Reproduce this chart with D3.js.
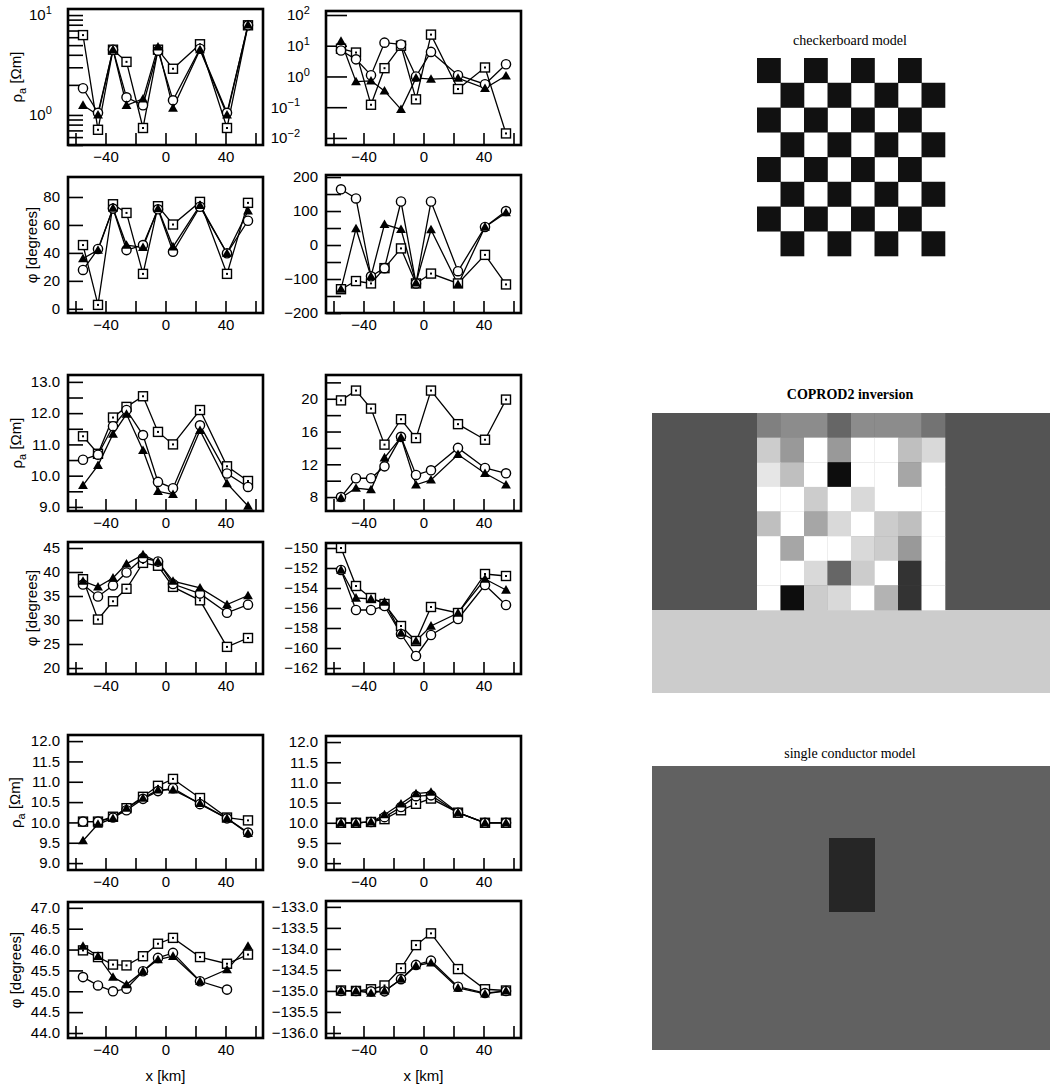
<!DOCTYPE html>
<html><head><meta charset="utf-8">
<script src="https://cdn.jsdelivr.net/npm/d3@7"></script>
<style>body{margin:0;background:#fff;} svg{display:block;}</style>
</head><body>
<svg id="c" width="1050" height="1087"></svg>
<script>
// ---------------- DATA ----------------
const stations = [-55, -45, -35, -26, -15, -5, 5, 23, 41, 55];
const xTicks = [-60, -40, -20, 0, 20, 40, 60];
const xTickLabels = [-40, 0, 40];

// checkerboard model – top row
const p1Square   = [6.3, 0.71, 4.5, 3.4, 0.74, 4.5, 2.9, 5.1, 0.74, 7.9];
const p1Circle   = [1.85, 1.05, 4.5, 1.5, 1.25, 4.4, 1.4, 4.6, 1.05, 7.9];
const p1Triangle = [1.25, 1.0, 4.5, 1.25, 1.45, 4.8, 1.17, 4.5, 1.0, 8.0];
const p1Ticks = [0.5,0.6,0.7,0.8,0.9,1,2,3,4,5,6,7,8,9,10];
const p1Labels = [1, 10];

const p2Square   = [8, 6, 0.12, 1.86, 10, 0.18, 23, 0.39, 1.96, 0.014];
const p2Circle   = [7, 3.6, 1.1, 12.6, 11, 1.0, 6.3, 1.1, 0.56, 2.5];
const p2Triangle = [14, 0.68, 0.72, 0.34, 0.085, 0.9, 0.82, 0.88, 0.41, 1.05];
const p2Ticks = [0.01, 0.1, 1, 10, 100];
const p2Labels = [0.01, 0.1, 1, 10, 100];

const p3Square   = [45.6, 2.8, 74.8, 68.6, 25, 73.4, 60.3, 76.5, 25, 75.8];
const p3Circle   = [27.8, 42.8, 71.7, 42, 45.6, 71.2, 40.8, 73, 39.7, 63];
const p3Triangle = [36, 42, 72, 45.6, 44, 71.7, 44.4, 74, 39.7, 70];
const p3Ticks = [0, 20, 40, 60, 80];
const p3Labels = [0, 20, 40, 60, 80];

const p4Square   = [-130, -106, -113, -68, -10, -113, -84, -113, -29, -116];
const p4Circle   = [164, 137, -92, -68, 128, -113, 128, -77, 53, 100];
const p4Triangle = [-130, 48, -92, 61, 46, -111, 45, -116, 53, 95];
const p4Ticks = [-200, -150, -100, -50, 0, 50, 100, 150, 200];
const p4Labels = [-200, -100, 0, 100, 200];

// COPROD2 inversion – middle row
const p5Square   = [11.26, 10.7, 11.86, 12.2, 12.54, 11.4, 11.0, 12.1, 10.3, 9.83];
const p5Circle   = [10.51, 10.67, 11.58, 12.1, 11.3, 9.8, 9.6, 11.61, 10.07, 9.64];
const p5Triangle = [9.69, 10.33, 11.33, 11.97, 10.81, 9.5, 9.4, 11.45, 9.75, 9.03];
const p5Ticks = [9.0, 9.5, 10.0, 10.5, 11.0, 11.5, 12.0, 12.5, 13.0];
const p5Labels = [9.0, 10.0, 11.0, 12.0, 13.0];

const p6Square   = [19.8, 21.0, 18.8, 14.4, 17.5, 15.2, 21.0, 16.9, 15.0, 19.9];
const p6Circle   = [8.0, 10.3, 10.3, 11.75, 15.35, 10.7, 11.27, 14.0, 11.55, 10.9];
const p6Triangle = [7.9, 9.1, 8.9, 12.8, 15.3, 9.5, 10.1, 13.2, 10.9, 9.5];
const p6Ticks = [8, 10, 12, 14, 16, 18, 20, 22];
const p6Labels = [8, 12, 16, 20];

const p7Square   = [38.5, 30.1, 33.9, 36.5, 41.9, 41.3, 36.9, 34.1, 24.4, 26.25];
const p7Circle   = [37.4, 34.9, 37.2, 39.9, 42.9, 42.2, 37.5, 35.5, 31.5, 33.2];
const p7Triangle = [38.1, 36.9, 38.75, 41.7, 43.6, 42.1, 38.1, 36.7, 33.2, 35.1];
const p7Ticks = [20, 25, 30, 35, 40, 45];
const p7Labels = [20, 25, 30, 35, 40, 45];

const p8Square   = [-150.0, -153.8, -155.0, -155.6, -157.8, -159.3, -155.9, -156.5, -152.6, -152.8];
const p8Circle   = [-152.2, -156.2, -156.2, -155.8, -158.6, -160.8, -158.7, -157.1, -153.7, -155.7];
const p8Triangle = [-152.2, -155.0, -155.1, -155.4, -158.5, -159.3, -157.8, -156.5, -153.1, -154.2];
const p8Ticks = [-162, -160, -158, -156, -154, -152, -150];
const p8Labels = [-162, -160, -158, -156, -154, -152, -150];

// single conductor model – bottom row
const p9Square   = [10.02, 10.02, 10.14, 10.35, 10.63, 10.9, 11.07, 10.6, 10.12, 10.05];
const p9Circle   = [10.02, 10.02, 10.12, 10.3, 10.58, 10.77, 10.84, 10.45, 10.1, 9.75];
const p9Triangle = [9.55, 9.96, 10.1, 10.35, 10.6, 10.8, 10.8, 10.47, 10.1, 9.73];
const p9Ticks = [9.0, 9.5, 10.0, 10.5, 11.0, 11.5, 12.0];
const p9Labels = [9.0, 9.5, 10.0, 10.5, 11.0, 11.5, 12.0];

const p10Square   = [10.0, 10.0, 10.02, 10.09, 10.31, 10.47, 10.6, 10.25, 10.0, 10.0];
const p10Circle   = [10.0, 10.0, 10.02, 10.14, 10.39, 10.66, 10.68, 10.25, 10.0, 10.0];
const p10Triangle = [10.0, 10.0, 10.02, 10.2, 10.47, 10.72, 10.76, 10.25, 10.0, 10.0];

const p11Square   = [45.98, 45.82, 45.64, 45.62, 45.84, 46.14, 46.28, 45.82, 45.66, 45.88];
const p11Circle   = [45.34, 45.14, 45.0, 45.06, 45.48, 45.8, 45.92, 45.24, 45.04, null];
const p11Triangle = [46.08, 45.84, 45.34, 45.16, 45.48, 45.76, 45.84, 45.24, 45.52, 46.08];
const p11Ticks = [44.0, 44.5, 45.0, 45.5, 46.0, 46.5, 47.0];
const p11Labels = [44.0, 44.5, 45.0, 45.5, 46.0, 46.5, 47.0];

const p12Square   = [-134.99, -135.0, -134.96, -134.87, -134.46, -133.91, -133.63, -134.48, -134.96, -134.99];
const p12Circle   = [-135.0, -135.0, -135.01, -135.01, -134.72, -134.38, -134.28, -134.9, -135.05, -135.0];
const p12Triangle = [-135.0, -135.0, -135.05, -135.0, -134.72, -134.4, -134.33, -134.93, -135.07, -135.0];
const p12Ticks = [-136.0, -135.5, -135.0, -134.5, -134.0, -133.5, -133.0];
const p12Labels = [-136.0, -135.5, -135.0, -134.5, -134.0, -133.5, -133.0];

// model images (grey level 0 = black, 1 = white)
const checkerRows = 8, checkerCols = 8;
const coprodCells = [
  [0.50, 0.55, 0.55, 0.40, 0.55, 0.55, 0.55, 0.45],
  [0.80, 0.60, 1.00, 0.60, 1.00, 1.00, 0.75, 0.85],
  [0.90, 0.75, 1.00, 0.05, 1.00, 1.00, 0.65, 1.00],
  [1.00, 1.00, 0.80, 1.00, 0.85, 1.00, 1.00, 1.00],
  [0.75, 1.00, 0.65, 0.85, 1.00, 0.80, 0.75, 1.00],
  [1.00, 0.65, 1.00, 1.00, 0.85, 0.80, 0.60, 1.00],
  [1.00, 1.00, 0.85, 0.40, 0.80, 1.00, 0.20, 1.00],
  [1.00, 0.05, 0.80, 0.85, 1.00, 0.70, 0.20, 1.00]
];
const coprodHost = 0.33, coprodBase = 0.80;
const conductorHost = 0.38, conductorBody = 0.15;

// ---------------- DRAWING ----------------
const svg = d3.select("#c");
const FONT = "'Liberation Sans', Arial, Helvetica, sans-serif";
const SERIF = "'Liberation Serif', 'Times New Roman', serif";

const fmtSigned = f => d => (d < 0 ? "\u2212" : "") + f(Math.abs(d));
const fmtInt = fmtSigned(d3.format("d"));
const fmt1 = fmtSigned(d3.format(".1f"));

const L = {x: 68, w: 195}, R = {x: 326, w: 195};

const panels = [
  {col: L, y0: 9,   y1: 145, log: true, dom: [0.5, 11.5], ticks: p1Ticks, labels: p1Labels, tl: 15, s: [p1Square, p1Circle, p1Triangle], title: "rho", tx: 17},
  {col: R, y0: 11,  y1: 145, log: true, dom: [Math.pow(10,-2.23), Math.pow(10,2.13)], ticks: p2Ticks, labels: p2Labels, tl: 21, s: [p2Square, p2Circle, p2Triangle]},
  {col: L, y0: 177, y1: 313, dom: [-3, 94.3], ticks: p3Ticks, labels: p3Labels, fmt: fmtInt, tl: 15, s: [p3Square, p3Circle, p3Triangle], title: "phi", tx: 32},
  {col: R, y0: 175, y1: 313, dom: [-200, 206], ticks: p4Ticks, labels: p4Labels, fmt: fmtInt, tl: 15, s: [p4Square, p4Circle, p4Triangle]},
  {col: L, y0: 375, y1: 511, dom: [8.87, 13.22], ticks: p5Ticks, labels: p5Labels, fmt: fmt1, tl: 15, s: [p5Square, p5Circle, p5Triangle], title: "rho", tx: 17},
  {col: R, y0: 375, y1: 511, dom: [6.3, 22.9], ticks: p6Ticks, labels: p6Labels, fmt: fmtInt, tl: 15, s: [p6Square, p6Circle, p6Triangle]},
  {col: L, y0: 542, y1: 674, dom: [18.75, 46.25], ticks: p7Ticks, labels: p7Labels, fmt: fmtInt, tl: 15, s: [p7Square, p7Circle, p7Triangle], title: "phi", tx: 32},
  {col: R, y0: 543, y1: 674, dom: [-162.6, -149.5], ticks: p8Ticks, labels: p8Labels, fmt: fmtInt, tl: 15, s: [p8Square, p8Circle, p8Triangle]},
  {col: L, y0: 735, y1: 870, dom: [8.83, 12.15], ticks: p9Ticks, labels: p9Labels, fmt: fmt1, tl: 15, s: [p9Square, p9Circle, p9Triangle], title: "rho", tx: 16},
  {col: R, y0: 736, y1: 870, dom: [8.83, 12.15], ticks: p9Ticks, labels: p9Labels, fmt: fmt1, tl: 15, s: [p10Square, p10Circle, p10Triangle]},
  {col: L, y0: 902, y1: 1038, dom: [43.88, 47.14], ticks: p11Ticks, labels: p11Labels, fmt: fmt1, tl: 15, s: [p11Square, p11Circle, p11Triangle], title: "phi", tx: 16, xtitle: true},
  {col: R, y0: 901, y1: 1038, dom: [-136.12, -132.86], ticks: p12Ticks, labels: p12Labels, fmt: fmt1, tl: 15, s: [p12Square, p12Circle, p12Triangle], xtitle: true}
];

panels.forEach(p => {
  const x = d3.scaleLinear().domain([-65, 65]).range([p.col.x, p.col.x + p.col.w]);
  const y = (p.log ? d3.scaleLog() : d3.scaleLinear()).domain(p.dom).range([p.y1, p.y0]);
  const g = svg.append("g");

  // y axis
  const labelSet = new Set(p.labels.map(v => +v.toFixed(4)));
  const ya = d3.axisLeft(y).tickValues(p.ticks).tickSize(-p.tl).tickPadding(8)
    .tickFormat(d => labelSet.has(+d.toFixed(4)) ? (p.log ? "10" : p.fmt(d)) : "");
  const yg = g.append("g").attr("transform", `translate(${p.col.x},0)`).call(ya);
  yg.select(".domain").remove();
  yg.selectAll("line").attr("stroke", "#000").attr("stroke-width", 1.6);
  yg.selectAll("text").attr("font-family", FONT).attr("font-size", 15).attr("fill", "#000");
  if (p.log) {
    yg.selectAll("text").each(function(d) {
      if (!labelSet.has(+d.toFixed(4))) return;
      const e = Math.round(Math.log10(d));
      const t = d3.select(this);
      t.attr("dx", e < 0 ? "-1.2em" : "-0.55em");
      t.append("tspan").attr("dy", "-0.55em").attr("font-size", 11)
        .text(e < 0 ? "\u2212" + Math.abs(e) : String(e));
    });
  }

  // x axis
  const xa = d3.axisBottom(x).tickValues(xTicks).tickSize(-12).tickPadding(6)
    .tickFormat(d => xTickLabels.includes(d) ? fmtInt(d) : "");
  const xg = g.append("g").attr("transform", `translate(0,${p.y1})`).call(xa);
  xg.select(".domain").remove();
  xg.selectAll("line").attr("stroke", "#000").attr("stroke-width", 1.6);
  xg.selectAll("text").attr("font-family", FONT).attr("font-size", 15).attr("fill", "#000");

  // frame
  g.append("rect").attr("x", p.col.x).attr("y", p.y0).attr("width", p.col.w).attr("height", p.y1 - p.y0)
    .attr("fill", "none").attr("stroke", "#000").attr("stroke-width", 2.6);

  // lines
  const line = d3.line().defined(d => d[1] != null).x(d => x(d[0])).y(d => y(d[1]));
  p.s.forEach(vals => {
    g.append("path").datum(stations.map((s, i) => [s, vals[i]]))
      .attr("d", line).attr("fill", "none").attr("stroke", "#000").attr("stroke-width", 1.3);
  });

  // markers: squares, circles, triangles
  const pts = (vals) => stations.map((s, i) => [s, vals[i]]).filter(d => d[1] != null);
  const sq = g.append("g");
  pts(p.s[0]).forEach(d => {
    sq.append("rect").attr("x", x(d[0]) - 4.5).attr("y", y(d[1]) - 4.5).attr("width", 9).attr("height", 9)
      .attr("fill", "#fff").attr("stroke", "#000").attr("stroke-width", 1.4);
    sq.append("rect").attr("x", x(d[0]) - 1).attr("y", y(d[1]) - 1).attr("width", 2).attr("height", 2).attr("fill", "#000");
  });
  const ci = g.append("g");
  pts(p.s[1]).forEach(d => {
    ci.append("circle").attr("cx", x(d[0])).attr("cy", y(d[1])).attr("r", 4.6)
      .attr("fill", "#fff").attr("stroke", "#000").attr("stroke-width", 1.4);
  });
  const tr = g.append("g");
  pts(p.s[2]).forEach(d => {
    tr.append("path").attr("d", d3.symbol(d3.symbolTriangle, 42)())
      .attr("transform", `translate(${x(d[0])},${y(d[1]) + 0.8})`).attr("fill", "#000");
  });

  // titles
  const cy = (p.y0 + p.y1) / 2;
  if (p.title === "rho") {
    const t = svg.append("text").attr("transform", `translate(${p.tx},${cy}) rotate(-90)`)
      .attr("text-anchor", "middle").attr("dy", "0.35em").attr("font-family", FONT).attr("font-size", 15);
    t.append("tspan").text("\u03C1");
    t.append("tspan").attr("font-size", 11).attr("dy", "0.3em").text("a");
    t.append("tspan").attr("dy", "-0.3em").text(" [\u03A9m]");
  } else if (p.title === "phi") {
    svg.append("text").attr("transform", `translate(${p.tx},${cy}) rotate(-90)`)
      .attr("text-anchor", "middle").attr("dy", "0.35em").attr("font-family", FONT).attr("font-size", 15)
      .text("\u03C6 [degrees]");
  }
  if (p.xtitle) {
    svg.append("text").attr("x", p.col.x + p.col.w / 2).attr("y", 1081).attr("text-anchor", "middle")
      .attr("font-family", FONT).attr("font-size", 15).text("x [km]");
  }
});

// ---------------- MODEL IMAGES ----------------
const greyC = v => { const c = Math.round(v * 255); return `rgb(${c},${c},${c})`; };

// checkerboard
svg.append("text").attr("x", 850).attr("y", 45).attr("text-anchor", "middle")
  .attr("font-family", SERIF).attr("font-size", 14).text("checkerboard model");
const cbX = d3.scaleBand().domain(d3.range(checkerCols)).range([757, 945]);
const cbY = d3.scaleBand().domain(d3.range(checkerRows)).range([58, 256]);
const cbCells = [];
d3.range(checkerRows).forEach(r => d3.range(checkerCols).forEach(c => cbCells.push({r, c})));
svg.append("g").selectAll("rect").data(cbCells.filter(d => (d.r + d.c) % 2 === 0)).join("rect")
  .attr("x", d => cbX(d.c)).attr("y", d => cbY(d.r)).attr("width", cbX.bandwidth() + 0.3).attr("height", cbY.bandwidth() + 0.3)
  .attr("fill", "#111");

// COPROD2 inversion
svg.append("text").attr("x", 850).attr("y", 399).attr("text-anchor", "middle")
  .attr("font-family", SERIF).attr("font-size", 14).attr("font-weight", "bold").text("COPROD2 inversion");
svg.append("rect").attr("x", 652).attr("y", 413).attr("width", 398).attr("height", 197).attr("fill", greyC(coprodHost));
svg.append("rect").attr("x", 652).attr("y", 610).attr("width", 398).attr("height", 83).attr("fill", greyC(coprodBase));
const cpX = d3.scaleBand().domain(d3.range(8)).range([757, 945]);
const cpY = d3.scaleBand().domain(d3.range(8)).range([413, 610]);
const cpCells = [];
coprodCells.forEach((row, r) => row.forEach((v, c) => cpCells.push({r, c, v})));
svg.append("g").selectAll("rect").data(cpCells).join("rect")
  .attr("x", d => cpX(d.c)).attr("y", d => cpY(d.r)).attr("width", cpX.bandwidth() + 0.3).attr("height", cpY.bandwidth() + 0.3)
  .attr("fill", d => greyC(d.v));

// single conductor model
svg.append("text").attr("x", 850).attr("y", 758).attr("text-anchor", "middle")
  .attr("font-family", SERIF).attr("font-size", 14).text("single conductor model");
svg.append("rect").attr("x", 652).attr("y", 766).attr("width", 398).attr("height", 284).attr("fill", greyC(conductorHost));
svg.append("rect").attr("x", 829).attr("y", 838).attr("width", 46).attr("height", 74).attr("fill", greyC(conductorBody));
</script>
</body></html>
